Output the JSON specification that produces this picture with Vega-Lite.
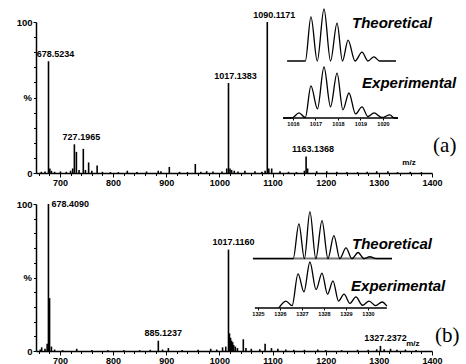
{
  "$schema": "https://vega.github.io/schema/vega-lite/v6.json",
  "padding": {"left": 16, "top": 6, "right": 0, "bottom": 0},
  "spacing": 12,
  "config": {
    "view": {"stroke": null},
    "font": "Liberation Sans",
    "axis": {"domainColor": "black", "tickColor": "black", "labelColor": "black", "labelFont": "Liberation Sans", "labelFontWeight": "bold", "grid": false, "domainWidth": 1.5, "tickWidth": 1, "title": null, "labelOverlap": false, "labelFlush": false}
  },
  "datasets": {
    "specA": [
      {"mz": 665, "intensity": 0.8}, {"mz": 672, "intensity": 1},
      {"mz": 678.52, "intensity": 74, "label": "678.5234"},
      {"mz": 681, "intensity": 3}, {"mz": 684, "intensity": 1.5}, {"mz": 690, "intensity": 0.8},
      {"mz": 701, "intensity": 1}, {"mz": 712, "intensity": 0.8}, {"mz": 720, "intensity": 1.5}, {"mz": 724, "intensity": 3},
      {"mz": 727.2, "intensity": 19, "label": "727.1965"},
      {"mz": 731, "intensity": 14}, {"mz": 736, "intensity": 2}, {"mz": 744, "intensity": 16}, {"mz": 748, "intensity": 2},
      {"mz": 754, "intensity": 7}, {"mz": 760, "intensity": 1.5}, {"mz": 770, "intensity": 5}, {"mz": 780, "intensity": 0.8},
      {"mz": 795, "intensity": 0.6}, {"mz": 810, "intensity": 0.6}, {"mz": 826.8, "intensity": 1.5}, {"mz": 845, "intensity": 0.6},
      {"mz": 863, "intensity": 1}, {"mz": 885, "intensity": 1.5}, {"mz": 890, "intensity": 1.2}, {"mz": 905.8, "intensity": 4},
      {"mz": 925, "intensity": 0.8}, {"mz": 940, "intensity": 0.6}, {"mz": 954.7, "intensity": 6}, {"mz": 965, "intensity": 0.8},
      {"mz": 976, "intensity": 1.2}, {"mz": 988, "intensity": 1}, {"mz": 1005, "intensity": 1}, {"mz": 1013.8, "intensity": 3},
      {"mz": 1017.14, "intensity": 59.6, "label": "1017.1383"},
      {"mz": 1020, "intensity": 3}, {"mz": 1023, "intensity": 2}, {"mz": 1028, "intensity": 1.5}, {"mz": 1035, "intensity": 1},
      {"mz": 1048, "intensity": 1.5}, {"mz": 1067, "intensity": 1.2}, {"mz": 1080, "intensity": 0.8}, {"mz": 1086, "intensity": 1.5},
      {"mz": 1090.12, "intensity": 100, "label": "1090.1171"},
      {"mz": 1093, "intensity": 3}, {"mz": 1098.4, "intensity": 3}, {"mz": 1114, "intensity": 1.2}, {"mz": 1130, "intensity": 0.8},
      {"mz": 1145, "intensity": 0.6}, {"mz": 1160, "intensity": 1.5},
      {"mz": 1163.14, "intensity": 11, "label": "1163.1368"},
      {"mz": 1166, "intensity": 3}, {"mz": 1183, "intensity": 1.2}, {"mz": 1202, "intensity": 1.2}, {"mz": 1221, "intensity": 0.8},
      {"mz": 1240, "intensity": 0.6}, {"mz": 1260, "intensity": 0.6}, {"mz": 1278, "intensity": 0.8}, {"mz": 1296, "intensity": 1.2},
      {"mz": 1317, "intensity": 1.2}, {"mz": 1335, "intensity": 0.6}, {"mz": 1359, "intensity": 0.8}, {"mz": 1380, "intensity": 0.6}
    ],
    "specB": [
      {"mz": 663, "intensity": 1}, {"mz": 665.7, "intensity": 2.5}, {"mz": 672, "intensity": 1.5}, {"mz": 676, "intensity": 5},
      {"mz": 678.41, "intensity": 100, "label": "678.4090"},
      {"mz": 680.5, "intensity": 36}, {"mz": 684, "intensity": 3}, {"mz": 690, "intensity": 1}, {"mz": 705, "intensity": 0.6},
      {"mz": 731.6, "intensity": 1.5}, {"mz": 760, "intensity": 0.6}, {"mz": 790, "intensity": 0.6}, {"mz": 820, "intensity": 0.6},
      {"mz": 850, "intensity": 0.6}, {"mz": 870, "intensity": 0.8},
      {"mz": 885.12, "intensity": 7, "label": "885.1237"},
      {"mz": 893, "intensity": 1}, {"mz": 904, "intensity": 2}, {"mz": 930, "intensity": 0.6}, {"mz": 960, "intensity": 0.8},
      {"mz": 983.7, "intensity": 1.5}, {"mz": 995, "intensity": 1}, {"mz": 1006, "intensity": 2.5}, {"mz": 1012, "intensity": 3},
      {"mz": 1017.12, "intensity": 69, "label": "1017.1160"},
      {"mz": 1019, "intensity": 12}, {"mz": 1021, "intensity": 9}, {"mz": 1023, "intensity": 7}, {"mz": 1025, "intensity": 6},
      {"mz": 1027, "intensity": 4}, {"mz": 1030, "intensity": 3}, {"mz": 1034, "intensity": 2}, {"mz": 1045, "intensity": 8},
      {"mz": 1050, "intensity": 2}, {"mz": 1060, "intensity": 1.5}, {"mz": 1076, "intensity": 1.2}, {"mz": 1086, "intensity": 5},
      {"mz": 1098, "intensity": 2}, {"mz": 1110, "intensity": 1.5}, {"mz": 1125, "intensity": 1}, {"mz": 1140, "intensity": 0.8},
      {"mz": 1160, "intensity": 0.8}, {"mz": 1185, "intensity": 1}, {"mz": 1200, "intensity": 0.6}, {"mz": 1230, "intensity": 0.6},
      {"mz": 1260, "intensity": 0.8}, {"mz": 1280, "intensity": 0.8}, {"mz": 1296, "intensity": 1.2},
      {"mz": 1303, "intensity": 3.5, "label": "1327.2372"},
      {"mz": 1310, "intensity": 1.2}, {"mz": 1322, "intensity": 1.5}, {"mz": 1334, "intensity": 0.8}, {"mz": 1350, "intensity": 1},
      {"mz": 1370, "intensity": 0.6}
    ],
    "theoA": [
      {"mz": 1015.74, "rel": 0}, {"mz": 1016.55, "rel": 0}, {"mz": 1016.8, "rel": 85}, {"mz": 1017.08, "rel": 0},
      {"mz": 1017.38, "rel": 100}, {"mz": 1017.67, "rel": 0}, {"mz": 1017.96, "rel": 73}, {"mz": 1018.2, "rel": 0},
      {"mz": 1018.45, "rel": 40}, {"mz": 1018.76, "rel": 0}, {"mz": 1019.07, "rel": 17}, {"mz": 1019.33, "rel": 0},
      {"mz": 1019.6, "rel": 8}, {"mz": 1019.85, "rel": 0}, {"mz": 1020.58, "rel": 0}
    ],
    "expA": [
      {"mz": 1015.56, "rel": 0}, {"mz": 1015.95, "rel": 0}, {"mz": 1016.27, "rel": 10}, {"mz": 1016.55, "rel": 1},
      {"mz": 1016.8, "rel": 63}, {"mz": 1017.09, "rel": 18}, {"mz": 1017.38, "rel": 100}, {"mz": 1017.67, "rel": 22},
      {"mz": 1017.96, "rel": 88}, {"mz": 1018.22, "rel": 16}, {"mz": 1018.49, "rel": 49}, {"mz": 1018.78, "rel": 8},
      {"mz": 1019.07, "rel": 22}, {"mz": 1019.33, "rel": 3}, {"mz": 1019.6, "rel": 10}, {"mz": 1019.95, "rel": 1},
      {"mz": 1020.31, "rel": 6}, {"mz": 1020.5, "rel": 0}, {"mz": 1020.67, "rel": 0}
    ],
    "theoB": [
      {"mz": 1324.77, "rel": 0}, {"mz": 1326.6, "rel": 0}, {"mz": 1326.86, "rel": 74}, {"mz": 1327.11, "rel": 0},
      {"mz": 1327.36, "rel": 100}, {"mz": 1327.63, "rel": 0}, {"mz": 1327.91, "rel": 81}, {"mz": 1328.18, "rel": 0},
      {"mz": 1328.45, "rel": 49}, {"mz": 1328.72, "rel": 0}, {"mz": 1329.0, "rel": 23}, {"mz": 1329.27, "rel": 0},
      {"mz": 1329.55, "rel": 13}, {"mz": 1329.82, "rel": 0}, {"mz": 1330.09, "rel": 4}, {"mz": 1330.36, "rel": 0},
      {"mz": 1331.09, "rel": 0}
    ],
    "expB": [
      {"mz": 1325.95, "rel": 0}, {"mz": 1326.27, "rel": 15}, {"mz": 1326.55, "rel": 5}, {"mz": 1326.82, "rel": 74},
      {"mz": 1327.09, "rel": 35}, {"mz": 1327.36, "rel": 100}, {"mz": 1327.64, "rel": 40}, {"mz": 1327.91, "rel": 76},
      {"mz": 1328.16, "rel": 30}, {"mz": 1328.41, "rel": 59}, {"mz": 1328.66, "rel": 15}, {"mz": 1328.91, "rel": 30},
      {"mz": 1329.18, "rel": 10}, {"mz": 1329.45, "rel": 24}, {"mz": 1329.75, "rel": 6}, {"mz": 1330.05, "rel": 15},
      {"mz": 1330.35, "rel": 5}, {"mz": 1330.64, "rel": 13}, {"mz": 1330.86, "rel": 4}
    ]
  },
  "vconcat": [
    {
      "width": 396, "height": 151,
      "layer": [
        {
          "layer": [
            {
              "data": {"name": "specA"},
              "mark": {"type": "rule", "color": "black", "strokeWidth": 1.6},
              "encoding": {
                "x": {"field": "mz", "type": "quantitative", "scale": {"domain": [655, 1400], "nice": false, "zero": false},
                  "axis": {"values": [700, 800, 900, 1000, 1100, 1200, 1300, 1400], "format": "d", "tickSize": 4, "labelPadding": 1, "labelFontSize": 9}},
                "y": {"field": "intensity", "type": "quantitative", "scale": {"domain": [0, 100], "nice": false},
                  "axis": {"values": [0, 100], "format": "d", "tickSize": 3, "labelPadding": 1, "labelFontSize": 9.5}},
                "y2": {"datum": 0}
              }
            },
            {
              "data": {"name": "specA"},
              "transform": [{"filter": "datum.label"}],
              "mark": {"type": "text", "fontWeight": "bold", "fontSize": 9, "dx": 7, "dy": -2, "baseline": "bottom", "color": "black"},
              "encoding": {"x": {"field": "mz", "type": "quantitative"}, "y": {"field": "intensity", "type": "quantitative"}, "text": {"field": "label"}}
            },
            {
              "data": {"values": [{}]},
              "mark": {"type": "text", "fontWeight": "bold", "fontSize": 9.5, "align": "right", "baseline": "middle", "dx": -4, "color": "black"},
              "encoding": {"x": {"datum": 655, "type": "quantitative"}, "y": {"datum": 50, "type": "quantitative"}, "text": {"value": "%"}}
            },
            {
              "data": {"values": [{}]},
              "mark": {"type": "text", "fontWeight": "bold", "fontStyle": "italic", "fontSize": 15, "align": "left", "baseline": "middle", "color": "black"},
              "encoding": {"x": {"datum": 1249.5, "type": "quantitative"}, "y": {"datum": 99.3, "type": "quantitative"}, "text": {"value": "Theoretical"}}
            },
            {
              "data": {"values": [{}]},
              "mark": {"type": "text", "fontWeight": "bold", "fontStyle": "italic", "fontSize": 15, "align": "left", "baseline": "middle", "color": "black"},
              "encoding": {"x": {"datum": 1268.4, "type": "quantitative"}, "y": {"datum": 59.6, "type": "quantitative"}, "text": {"value": "Experimental"}}
            },
            {
              "data": {"values": [{}]},
              "mark": {"type": "text", "font": "Liberation Serif", "fontSize": 21, "align": "left", "baseline": "middle", "color": "black"},
              "encoding": {"x": {"datum": 1402, "type": "quantitative"}, "y": {"datum": 17.9, "type": "quantitative"}, "text": {"value": "(a)"}}
            },
            {
              "data": {"values": [{}]},
              "mark": {"type": "text", "fontWeight": "bold", "fontSize": 8, "align": "center", "baseline": "middle", "color": "black"},
              "encoding": {"x": {"datum": 1356.8, "type": "quantitative"}, "y": {"datum": 6.6, "type": "quantitative"}, "text": {"value": "m/z"}}
            }
          ]
        },
        {
          "data": {"name": "specA"},
          "mark": {"type": "point", "opacity": 0},
          "encoding": {
            "x": {"field": "mz", "type": "quantitative", "scale": {"domain": [655, 1400], "nice": false, "zero": false},
              "axis": {"orient": "bottom", "values": [660,680,720,740,760,780,820,840,860,880,920,940,960,980,1020,1040,1060,1080,1120,1140,1160,1180,1220,1240,1260,1280,1320,1340,1360,1380], "labels": false, "domain": false, "tickSize": 2.5}},
            "y": {"field": "intensity", "type": "quantitative", "scale": {"domain": [0, 100], "nice": false},
              "axis": {"orient": "left", "values": [10, 20, 30, 40, 50, 60, 70, 80, 90], "labels": false, "domain": false, "tickSize": 2.5}}
          }
        },
        {
          "data": {"name": "theoA"},
          "mark": {"type": "line", "interpolate": "monotone", "color": "black", "strokeWidth": 1.3},
          "encoding": {
            "x": {"field": "mz", "type": "quantitative", "scale": {"domain": [1004.58, 1022.18], "nice": false, "zero": false}, "axis": null},
            "y": {"field": "rel", "type": "quantitative", "scale": {"domain": [-215.4, 75], "nice": false, "zero": false}, "axis": null}
          }
        },
        {
          "layer": [
            {
              "data": {"name": "expA"},
              "mark": {"type": "line", "interpolate": "monotone", "color": "black", "strokeWidth": 1.3},
              "encoding": {
                "x": {"field": "mz", "type": "quantitative", "scale": {"domain": [1004.58, 1022.18], "nice": false, "zero": false},
                  "axis": {"orient": "bottom", "offset": -55, "values": [1016, 1017, 1018, 1019, 1020], "format": "d", "domain": false, "tickSize": 2, "labelFontSize": 5.5, "labelPadding": 1}},
                "y": {"field": "rel", "type": "quantitative", "scale": {"domain": [-107.8, 188.2], "nice": false, "zero": false}, "axis": null}
              }
            },
            {
              "data": {"values": [{}]},
              "mark": {"type": "rule", "color": "black", "strokeWidth": 1.3},
              "encoding": {"x": {"datum": 1015.56, "type": "quantitative"}, "x2": {"datum": 1020.67}, "y": {"datum": 0, "type": "quantitative"}}
            }
          ]
        }
      ],
      "resolve": {"scale": {"x": "independent", "y": "independent"}}
    },
    {
      "width": 396, "height": 147,
      "layer": [
        {
          "layer": [
            {
              "data": {"name": "specB"},
              "mark": {"type": "rule", "color": "black", "strokeWidth": 1.6},
              "encoding": {
                "x": {"field": "mz", "type": "quantitative", "scale": {"domain": [655, 1400], "nice": false, "zero": false},
                  "axis": {"values": [700, 800, 900, 1000, 1100, 1200, 1300, 1400], "format": "d", "tickSize": 4, "labelPadding": 1, "labelFontSize": 9}},
                "y": {"field": "intensity", "type": "quantitative", "scale": {"domain": [0, 100], "nice": false},
                  "axis": {"values": [0, 100], "format": "d", "tickSize": 3, "labelPadding": 1, "labelFontSize": 9.5}},
                "y2": {"datum": 0}
              }
            },
            {
              "data": {"name": "specB"},
              "transform": [{"filter": "datum.label && datum.intensity < 100"}],
              "mark": {"type": "text", "fontWeight": "bold", "fontSize": 9, "dx": 5, "dy": -3, "baseline": "bottom", "color": "black"},
              "encoding": {"x": {"field": "mz", "type": "quantitative"}, "y": {"field": "intensity", "type": "quantitative"}, "text": {"field": "label"}}
            },
            {
              "data": {"name": "specB"},
              "transform": [{"filter": "datum.label && datum.intensity >= 100"}],
              "mark": {"type": "text", "fontWeight": "bold", "fontSize": 9, "dx": 3, "align": "left", "baseline": "middle", "color": "black"},
              "encoding": {"x": {"field": "mz", "type": "quantitative"}, "y": {"field": "intensity", "type": "quantitative"}, "text": {"field": "label"}}
            },
            {
              "data": {"values": [{}]},
              "mark": {"type": "text", "fontWeight": "bold", "fontSize": 9.5, "align": "right", "baseline": "middle", "dx": -4, "color": "black"},
              "encoding": {"x": {"datum": 655, "type": "quantitative"}, "y": {"datum": 50, "type": "quantitative"}, "text": {"value": "%"}}
            },
            {
              "data": {"values": [{}]},
              "mark": {"type": "text", "fontWeight": "bold", "fontStyle": "italic", "fontSize": 15, "align": "left", "baseline": "middle", "color": "black"},
              "encoding": {"x": {"datum": 1249.5, "type": "quantitative"}, "y": {"datum": 73, "type": "quantitative"}, "text": {"value": "Theoretical"}}
            },
            {
              "data": {"values": [{}]},
              "mark": {"type": "text", "fontWeight": "bold", "fontStyle": "italic", "fontSize": 15, "align": "left", "baseline": "middle", "color": "black"},
              "encoding": {"x": {"datum": 1247.7, "type": "quantitative"}, "y": {"datum": 43.9, "type": "quantitative"}, "text": {"value": "Experimental"}}
            },
            {
              "data": {"values": [{}]},
              "mark": {"type": "text", "font": "Liberation Serif", "fontSize": 21, "align": "left", "baseline": "middle", "color": "black"},
              "encoding": {"x": {"datum": 1405.7, "type": "quantitative"}, "y": {"datum": 10.1, "type": "quantitative"}, "text": {"value": "(b)"}}
            },
            {
              "data": {"values": [{}]},
              "mark": {"type": "text", "fontWeight": "bold", "fontSize": 8, "align": "center", "baseline": "middle", "color": "black"},
              "encoding": {"x": {"datum": 1364, "type": "quantitative"}, "y": {"datum": 4.7, "type": "quantitative"}, "text": {"value": "m/z"}}
            }
          ]
        },
        {
          "data": {"name": "specB"},
          "mark": {"type": "point", "opacity": 0},
          "encoding": {
            "x": {"field": "mz", "type": "quantitative", "scale": {"domain": [655, 1400], "nice": false, "zero": false},
              "axis": {"orient": "bottom", "values": [660,680,720,740,760,780,820,840,860,880,920,940,960,980,1020,1040,1060,1080,1120,1140,1160,1180,1220,1240,1260,1280,1320,1340,1360,1380], "labels": false, "domain": false, "tickSize": 2.5}},
            "y": {"field": "intensity", "type": "quantitative", "scale": {"domain": [0, 100], "nice": false},
              "axis": {"orient": "left", "values": [10, 20, 30, 40, 50, 60, 70, 80, 90], "labels": false, "domain": false, "tickSize": 2.5}}
          }
        },
        {
          "layer": [
            {
              "data": {"values": [{}]},
              "mark": {"type": "rule", "color": "#777777", "strokeWidth": 2},
              "encoding": {"x": {"datum": 1324.77, "type": "quantitative"}, "x2": {"datum": 1331.09}, "y": {"datum": 0, "type": "quantitative"}}
            },
            {
              "data": {"name": "theoB"},
              "mark": {"type": "line", "interpolate": "monotone", "color": "black", "strokeWidth": 1.3},
              "encoding": {
                "x": {"field": "mz", "type": "quantitative", "scale": {"domain": [1314.91, 1332.91], "nice": false, "zero": false}, "axis": null},
                "y": {"field": "rel", "type": "quantitative", "scale": {"domain": [-196.6, 116.2], "nice": false, "zero": false}, "axis": null}
              }
            }
          ]
        },
        {
          "layer": [
            {
              "data": {"name": "expB"},
              "mark": {"type": "line", "interpolate": "monotone", "color": "black", "strokeWidth": 1.3},
              "encoding": {
                "x": {"field": "mz", "type": "quantitative", "scale": {"domain": [1314.91, 1332.91], "nice": false, "zero": false},
                  "axis": {"orient": "bottom", "offset": -43, "values": [1325, 1326, 1327, 1328, 1329, 1330], "format": "d", "domain": false, "tickSize": 2, "labelFontSize": 5.5, "labelPadding": 1}},
                "y": {"field": "rel", "type": "quantitative", "scale": {"domain": [-93.5, 226.1], "nice": false, "zero": false}, "axis": null}
              }
            },
            {
              "data": {"values": [{}]},
              "mark": {"type": "rule", "color": "black", "strokeWidth": 1.3},
              "encoding": {"x": {"datum": 1324.86, "type": "quantitative"}, "x2": {"datum": 1330.86}, "y": {"datum": 0, "type": "quantitative"}}
            }
          ]
        }
      ],
      "resolve": {"scale": {"x": "independent", "y": "independent"}}
    }
  ]
}
